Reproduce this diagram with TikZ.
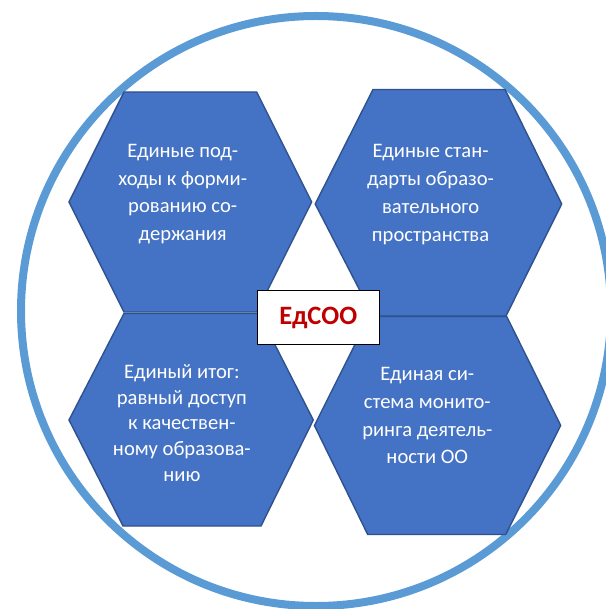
\documentclass[tikz,border=0pt]{standalone}
\usepackage{fontspec}
\setmainfont{Carlito}
\usepackage{xcolor}
\usepackage{tikz}
\usetikzlibrary{positioning}
\definecolor{ringblue}{RGB}{91, 155, 213}
\definecolor{cellblue}{RGB}{68, 114, 196}
\definecolor{celledge}{RGB}{47, 82, 143}
\definecolor{titlered}{RGB}{192, 0, 0}

\tikzset{
  cell/.style={fill=cellblue, draw=celledge, line width=1.4pt},
  celltext/.style={text=white, align=center, font=\fontsize{20.6}{27.7}\selectfont},
}

\begin{document}
\begin{tikzpicture}[x=1pt, y=-1pt]
    \useasboundingbox (0,0) rectangle (605,609);

    % Outer ring
    \draw[ringblue, line width=8pt] (316,311) circle (295pt);

    % Four cells
    \draw[cell] (124,92) -- (256.7,92) -- (311.7,202) -- (256.7,312) -- (124,312) -- (69,202) -- cycle;
    \draw[cell] (373,89.5) -- (505,89.5) -- (561.7,204) -- (506,316) -- (373,316) -- (315.2,204) -- cycle;
    \draw[cell] (124,313.5) -- (259,313.5) -- (313.3,420) -- (261,526) -- (123,526) -- (69,420) -- cycle;
    \draw[cell] (369,316.5) -- (506.7,316.5) -- (560.7,425.5) -- (505.7,534.5) -- (367.7,534.5) -- (314.4,425.5) -- cycle;

    \node[celltext] (approach) at (182.7,194) {Единые под-\\ходы к форми-\\рованию со-\\держания};
    \node[celltext] (standard) at (430.6,194.6) {Единые стан-\\дарты образо-\\вательного\\пространства};
    \node[celltext, font=\fontsize{20.6}{25.8}\selectfont] (result) at (181.9,423) {Единый итог:\\равный доступ\\к качествен-\\ному образова-\\нию};
    \node[celltext] (monitor) at (427.3,415.8) {Единая си-\\стема монито-\\ринга деятель-\\ности ОО};

    % Centre label
    \node[draw=black, fill=white, line width=1.2pt, minimum width=122pt, minimum height=53.6pt,
          text=titlered, font=\bfseries\fontsize{26.5}{30}\selectfont] (edsoo) at (318.3,317.5) {ЕдСОО};
\end{tikzpicture}
\end{document}
